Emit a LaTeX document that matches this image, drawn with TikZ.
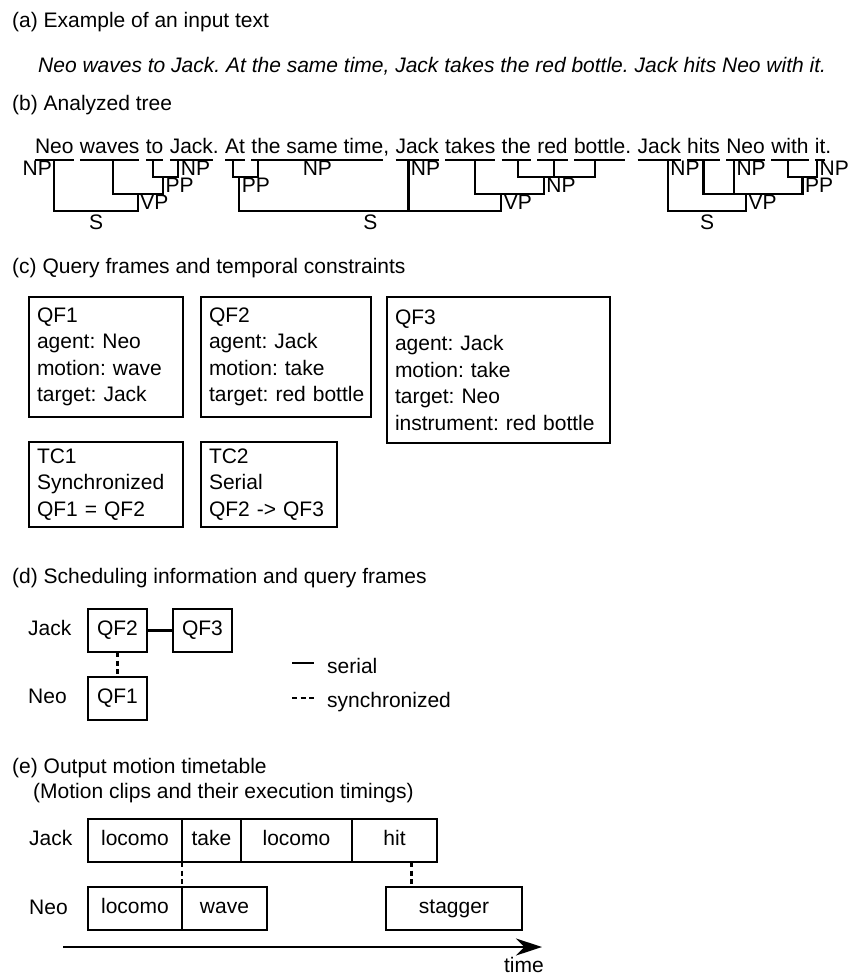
\documentclass[tikz,border=0pt]{standalone}
\usepackage{fontspec}
\setmainfont{Liberation Sans}
\usetikzlibrary{arrows.meta,calc,positioning}
\newcommand{\FigBody}{\fontsize{21}{26.5}\selectfont\frenchspacing}
\newcommand{\wsp}{6.4pt}
\hyphenpenalty=10000

\begin{document}
\begin{tikzpicture}[
  x=1pt, y=-1pt,
  font=\FigBody,
  title/.style = {anchor=base west, inner sep=0pt},
  wrd/.style   = {inner sep=0pt, outer sep=0pt},
  phr/.style   = {inner xsep=2.5pt, inner ysep=1.5pt, outer sep=0pt, anchor=north west},
  bar/.style   = {line width=2.2pt},
  sync/.style  = {dash pattern=on 5pt off 3.5pt},
  frame/.style = {draw, line width=2.2pt, anchor=north west, align=left,
                  inner xsep=8pt, inner ysep=0pt, outer sep=0pt},
  qbox/.style  = {draw, line width=2.2pt, minimum width=59pt, minimum height=43pt,
                  anchor=north west, inner sep=0pt, outer sep=0pt,
                  text height=15pt, text depth=4.5pt},
  mbox/.style  = {draw, line width=2.2pt, minimum height=43pt, anchor=north west,
                  inner sep=0pt, outer sep=0pt, text height=15pt, text depth=4.5pt},
]
\useasboundingbox (0,0) rectangle (857,975);

% ---------------------------------------------------------------- (a) input text
\node[title] (ta) at (12,27) {(a) Example of an input text};
\node[title, font=\FigBody\itshape] (input) at (38,72)
  {Neo waves to Jack. At the same time, Jack takes the red bottle. Jack hits Neo with it.};

% ---------------------------------------------------------------- (b) analyzed tree
\node[title] (tb) at (12,110) {(b) Analyzed tree};

\coordinate (L0) at (0,160);
\coordinate (L1) at (0,177);
\coordinate (L2) at (0,194);
\coordinate (L3) at (0,211);

% --- the words, one node each -------------------------------------------------------
\node[wrd, anchor=base west] (neoA) at (35,153) {Neo};
\node[wrd, base right=\wsp of neoA]   (wavesA)  {waves};
\node[wrd, base right=\wsp of wavesA] (toA)     {to};
\node[wrd, base right=\wsp of toA]    (jackA)   {Jack};
\node[wrd, base right=0pt of jackA]   (dotA)    {.};
\node[wrd, base right=\wsp of dotA]   (atB)     {At};
\node[wrd, base right=\wsp of atB]    (timeB)   {the same time};
\node[wrd, base right=0pt of timeB]   (commaB)  {,};
\node[wrd, base right=\wsp of commaB] (jackB)   {Jack};
\node[wrd, base right=\wsp of jackB]  (takesB)  {takes};
\node[wrd, base right=\wsp of takesB] (theB)    {the};
\node[wrd, base right=\wsp of theB]   (redB)    {red};
\node[wrd, base right=\wsp of redB]   (bottleB) {bottle};
\node[wrd, base right=0pt of bottleB] (dotB)    {.};
\node[wrd, base right=\wsp of dotB]   (jackC)   {Jack};
\node[wrd, base right=\wsp of jackC]  (hitsC)   {hits};
\node[wrd, base right=\wsp of hitsC]  (neoC)    {Neo};
\node[wrd, base right=\wsp of neoC]   (withC)   {with};
\node[wrd, base right=\wsp of withC]  (itC)     {it};
\node[wrd, base right=0pt of itC]     (dotC)    {.};

% underlines and the foot of each stem
\foreach \w/\f in {neoA/0.5, wavesA/0.55, toA/0.4, jackA/0.2, atB/0.4, timeB/0.05,
                   jackB/0.3, takesB/0.6, theB/0.55, redB/0.55, bottleB/0.4,
                   jackC/0.7, hitsC/0.5, neoC/0.2, withC/0.45, itC/0.2} {
  \draw[bar] (\w.base west |- L0) -- (\w.base east |- L0);
  \coordinate (s\w) at ($(\w.base west)!\f!(\w.base east)$);
}

% --- sentence 1 ---------------------------------------------------------------------
\coordinate (pp1) at ($(stoA)!0.4!(sjackA)$);
\coordinate (vp1) at ($(swavesA)!0.5!(pp1)$);
\draw[bar] (stoA |- L0) |- (sjackA |- L1) -- (sjackA |- L0);
\draw[bar] (swavesA |- L0) |- (pp1 |- L2) -- (pp1 |- L1);
\draw[bar] (sneoA |- L0) |- (vp1 |- L3) -- (vp1 |- L2);
\node[phr, anchor=north east] (npA1) at (sneoA |- L0) {NP};
\node[phr] (npA2) at (sjackA |- L0) {NP};
\node[phr] (ppA)  at (pp1 |- L1) {PP};
\node[phr] (vpA)  at (vp1 |- L2) {VP};
\node[phr, anchor=north, inner ysep=4pt] (sA) at ($(sneoA |- L3)!0.5!(vp1 |- L3)$) {S};

% --- sentence 2 ---------------------------------------------------------------------
\coordinate (pp2) at ($(satB)!0.25!(stimeB)$);
\coordinate (np2) at ($(stheB)!0.34!(sbottleB)$);
\coordinate (vp2) at ($(stakesB)!0.38!(np2)$);
\draw[bar] (satB |- L0) |- (stimeB |- L1) -- (stimeB |- L0);
\draw[bar] (stheB |- L0) |- (sbottleB |- L1) -- (sbottleB |- L0);
\draw[bar] (sredB |- L0) -- (sredB |- L1);
\draw[bar] (stakesB |- L0) |- (np2 |- L2) -- (np2 |- L1);
\draw[bar] (pp2 |- L1) |- (vp2 |- L3) -- (vp2 |- L2);
\draw[bar] (sjackB |- L0) -- (sjackB |- L3);
\node[phr, anchor=north] (npB1) at (timeB.base |- L0) {NP};
\node[phr] (ppB)  at (pp2 |- L1) {PP};
\node[phr] (npB2) at (sjackB |- L0) {NP};
\node[phr] (npB3) at (np2 |- L1) {NP};
\node[phr] (vpB)  at (vp2 |- L2) {VP};
\node[phr, anchor=north, inner ysep=4pt] (sB) at ($(pp2 |- L3)!0.5!(vp2 |- L3)$) {S};

% --- sentence 3 ---------------------------------------------------------------------
\coordinate (pp3) at ($(swithC)!0.5!(sitC)$);
\coordinate (vp3) at ($(shitsC)!0.43!(pp3)$);
\draw[bar] (swithC |- L0) |- (sitC |- L1) -- (sitC |- L0);
\draw[bar] (shitsC |- L0) |- (pp3 |- L2) -- (pp3 |- L1);
\draw[bar] (sneoC |- L0) -- (sneoC |- L2);
\draw[bar] (sjackC |- L0) |- (vp3 |- L3) -- (vp3 |- L2);
\node[phr] (npC1) at (sjackC |- L0) {NP};
\node[phr] (npC2) at (sneoC |- L0) {NP};
\node[phr] (npC3) at (sitC |- L0) {NP};
\node[phr] (ppC)  at (pp3 |- L1) {PP};
\node[phr] (vpC)  at (vp3 |- L2) {VP};
\node[phr, anchor=north, inner ysep=4pt] (sC) at ($(sjackC |- L3)!0.5!(vp3 |- L3)$) {S};

% ---------------------------------------------------------------- (c) query frames
\node[title] (tc) at (12,273) {(c) Query frames and temporal constraints};
\node[frame, text width=138pt, minimum height=120pt] (qf1) at (29,297)
  {QF1\\agent: Neo\\motion: wave\\target: Jack};
\node[frame, text width=154pt, minimum height=120pt] (qf2) at (201,297)
  {QF2\\agent: Jack\\motion: take\\\mbox{target: red bottle}};
\node[frame, text width=207pt, minimum height=146pt] (qf3) at (387,297)
  {QF3\\agent: Jack\\motion: take\\target: Neo\\instrument: red bottle};
\node[frame, text width=138pt, minimum height=85pt] (tc1) at (29,442)
  {TC1\\Synchronized\\QF1 = QF2};
\node[frame, text width=120pt, minimum height=85pt] (tc2) at (201,442)
  {TC2\\Serial\\QF2 -> QF3};

% ---------------------------------------------------------------- (d) scheduling
\node[title] (td) at (12,583) {(d) Scheduling information and query frames};
\node[title] (jackD) at (28,635) {Jack};
\node[title] (neoD)  at (28,703) {Neo};
\node[qbox] (qf2d) at (88,609)  {QF2};
\node[qbox] (qf3d) at (173,609) {QF3};
\node[qbox] (qf1d) at (88,677)  {QF1};
\draw[bar] (qf2d) -- (qf3d);
\draw[bar, sync] (qf2d) -- (qf1d);

% legend
\coordinate (serA) at (292,663);
\coordinate (serB) at (314,663);
\coordinate (synA) at (292,698);
\coordinate (synB) at (314,698);
\draw[bar] (serA) -- (serB);
\draw[bar, sync] (synA) -- (synB);
\node[title] (serT) at (327,673) {serial};
\node[title] (synT) at (327,707) {synchronized};

% ---------------------------------------------------------------- (e) timetable
\node[title] (te)  at (12,773) {(e) Output motion timetable};
\node[title] (te2) at (33,798) {(Motion clips and their execution timings)};

\node[title] (jackE) at (29,845) {Jack};
\node[mbox, minimum width=94pt] (jl1) at (88,819) {locomo};
\node[mbox, minimum width=59pt,  right=0pt of jl1] (jtk) {take};
\node[mbox, minimum width=111pt, right=0pt of jtk] (jl2) {locomo};
\node[mbox, minimum width=85pt,  right=0pt of jl2] (jht) {hit};

\node[title] (neoE) at (29,914) {Neo};
\node[mbox, minimum width=94pt] (nl1) at (88,887) {locomo};
\node[mbox, minimum width=85pt, right=0pt of nl1] (nwv) {wave};
\node[mbox, minimum width=136pt] (nst) at (386,887) {stagger};

\draw[bar, sync] (jl1.south east) -- (nl1.north east);
\coordinate (hitx) at ($(jht.south west)!0.7!(jht.south east)$);
\draw[bar, sync] (hitx) -- (hitx |- nst.north);

% time axis
\coordinate (t0) at (63,947);
\coordinate (t1) at (542,947);
\draw[bar, -{Stealth[length=26pt, width=17pt]}] (t0) -- (t1);
\node[anchor=base east, inner sep=0pt] (timeE) at (544,972) {time};

\end{tikzpicture}
\end{document}
